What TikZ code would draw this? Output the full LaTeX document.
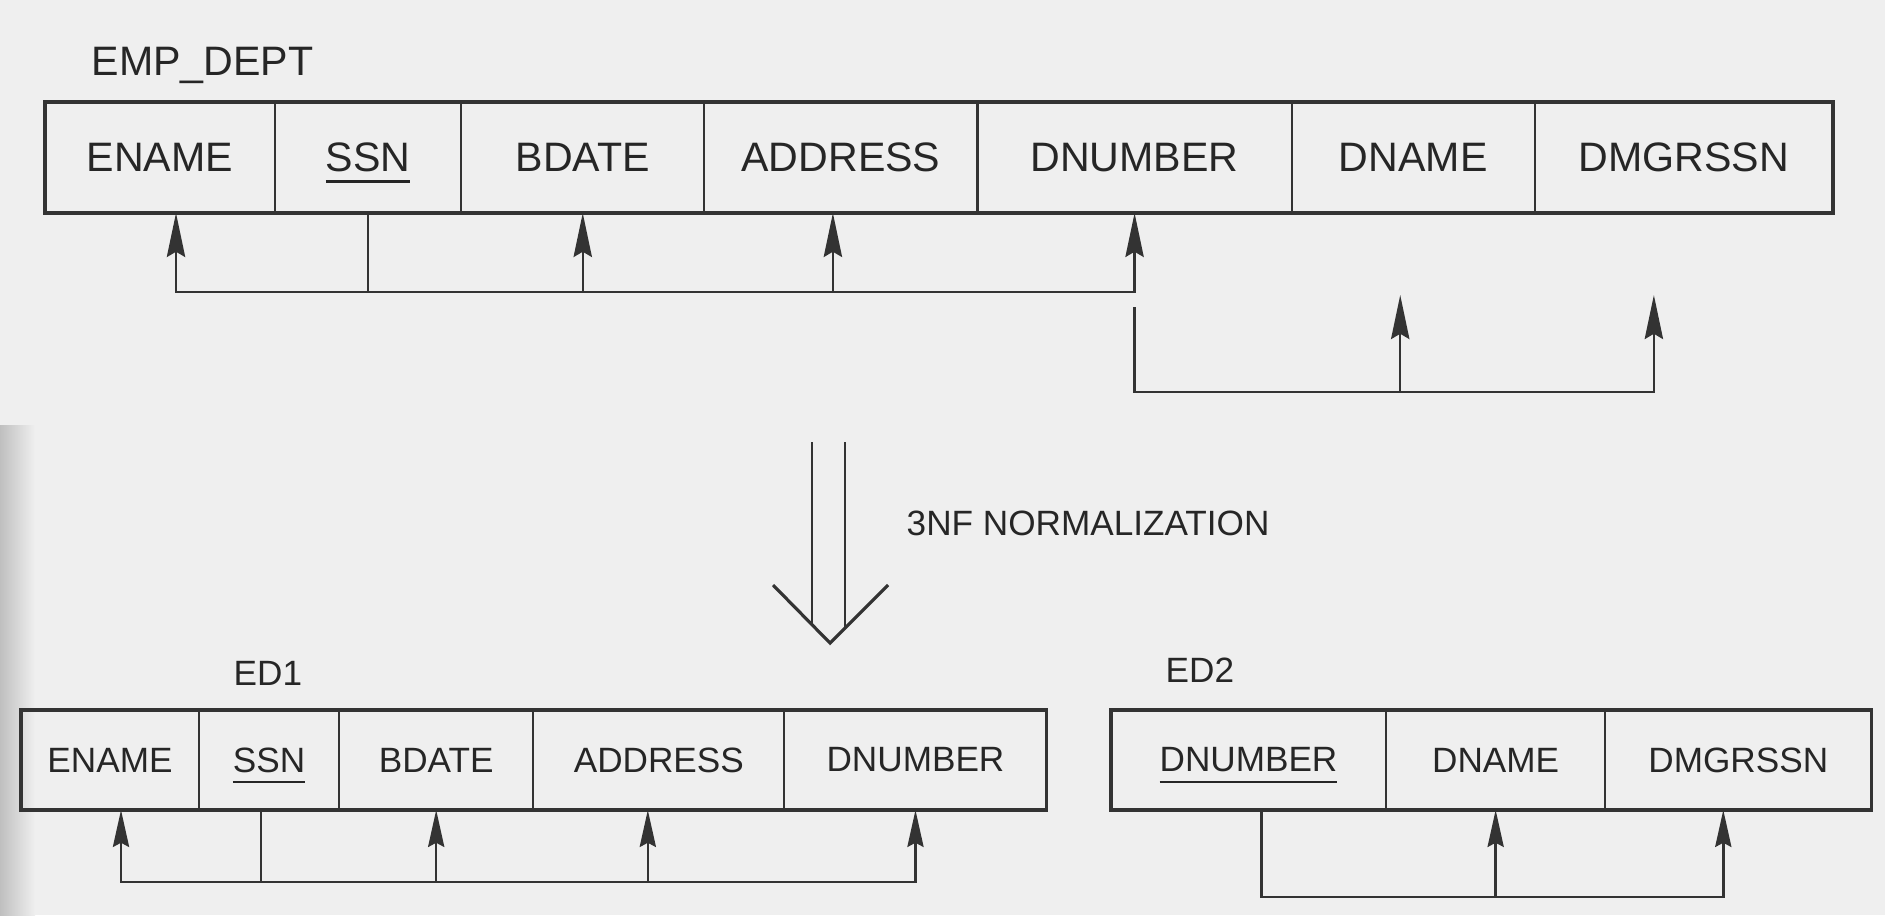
\documentclass[tikz,border=0pt]{standalone}
\usepackage{fontspec}
\setmainfont{Liberation Sans}
\usepackage{tikz}
\usetikzlibrary{arrows.meta,positioning,calc}

\definecolor{paper}{HTML}{EFEFEF}
\definecolor{ink}{HTML}{333333}
\definecolor{letter}{HTML}{262626}

% underlined key attribute
\newcommand{\keyattr}[1]{\setbox0\hbox{#1}\rlap{\smash{\rule[-3.2pt]{\wd0}{0.7pt}}}\box0}

\tikzset{
  attr/.style={draw=ink, text=letter, line width=0.6pt, inner sep=0pt, outer sep=0pt,
    minimum height=1.11cm, font=\fontsize{11.7}{14}\selectfont},
  attrsm/.style={attr, minimum height=1.0cm, font=\fontsize{10}{12}\selectfont},
  relname/.style={text=letter, inner sep=0pt, anchor=base west},
  fd/.style={draw=ink, line width=0.7pt, -{Stealth[length=12.5pt,width=5.2pt,inset=1.5pt]}},
  fdboth/.style={fd, {Stealth[length=12.5pt,width=5.2pt,inset=1.5pt]}-{Stealth[length=12.5pt,width=5.2pt,inset=1.5pt]}},
  fdsm/.style={draw=ink, line width=0.7pt, -{Stealth[length=10.5pt,width=4.6pt,inset=1.2pt]}},
  fdsmboth/.style={fdsm, {Stealth[length=10.5pt,width=4.6pt,inset=1.2pt]}-{Stealth[length=10.5pt,width=4.6pt,inset=1.2pt]}},
  fdline/.style={draw=ink, line width=0.7pt},
}

\begin{document}
\begin{tikzpicture}[x=0.01cm,y=-0.01cm]
      \useasboundingbox (0,0) rectangle (1885,915);
      \fill[paper] (0,0) rectangle (1885,915);
      \shade[left color=black!25, right color=paper] (0,425) rectangle (35,915);

      % EMP_DEPT
      \node[relname, font=\fontsize{11.7}{14}\selectfont] (empdept) at (91,75) {EMP\_DEPT};
      \node[attr, minimum width=2.30cm] (ename) at (160,157.5) {ENAME};
      \node[attr, minimum width=1.86cm, right=0pt of ename] (ssn) {\keyattr{SSN}};
      \node[attr, minimum width=2.43cm, right=0pt of ssn] (bdate) {BDATE};
      \node[attr, minimum width=2.73cm, right=0pt of bdate] (address) {ADDRESS};
      \node[attr, minimum width=3.14cm, right=0pt of address] (dnum) {DNUMBER};
      \node[attr, minimum width=2.43cm, right=0pt of dnum] (dname) {DNAME};
      \node[attr, minimum width=2.98cm, right=0pt of dname] (dmgr) {DMGRSSN};
      \draw[ink, line width=0.9pt] (ename.north west) rectangle (dmgr.south east);

      \coordinate (fdA) at (0,292);
      \coordinate (fdB) at (0,392);
      \coordinate (e1) at ([xshift=0.16cm]ename.south);
      \coordinate (a1) at ([xshift=-0.08cm]address.south);
      \coordinate (fdBtop) at ([yshift=-0.94cm]dnum.south);
      \coordinate (dn1) at ([xshift=-0.13cm,yshift=-0.82cm]dname.south);
      \coordinate (dm1) at ([xshift=-0.30cm,yshift=-0.82cm]dmgr.south);

      \draw[fdboth] (e1) -- (e1 |- fdA) -- (dnum.south |- fdA) -- (dnum.south);
      \draw[fdline] (ssn.south) -- (ssn.south |- fdA);
      \draw[fd] (bdate.south |- fdA) -- (bdate.south);
      \draw[fd] (a1 |- fdA) -- (a1);
      \draw[fd] (fdBtop) -- (fdBtop |- fdB) -- (dm1 |- fdB) -- (dm1);
      \draw[fd] (dn1 |- fdB) -- (dn1);

      % normalization arrow
      \draw[ink, line width=0.7pt] (812,442) -- (812,625);
      \draw[ink, line width=0.7pt] (845,442) -- (845,628);
      \draw[ink, line width=0.9pt] (773,585) -- (830,643) -- (888,585);
      \node[relname, font=\fontsize{10}{12}\selectfont] (norm) at (906,535) {3NF NORMALIZATION};

      % ED1
      \node[relname, font=\fontsize{10}{12}\selectfont] (edone) at (233,685) {ED1};
      \node[attrsm, minimum width=1.78cm] (ename1) at (110,760) {ENAME};
      \node[attrsm, minimum width=1.40cm, right=0pt of ename1] (ssn1) {\keyattr{SSN}};
      \node[attrsm, minimum width=1.94cm, right=0pt of ssn1] (bdate1) {BDATE};
      \node[attrsm, minimum width=2.51cm, right=0pt of bdate1] (address1) {ADDRESS};
      \node[attrsm, minimum width=2.62cm, right=0pt of address1] (dnum1) {DNUMBER};
      \draw[ink, line width=0.9pt] (ename1.north west) rectangle (dnum1.south east);

      \coordinate (fdC) at (0,882);
      \coordinate (e2) at ([xshift=0.11cm]ename1.south);
      \coordinate (s2) at ([xshift=-0.08cm]ssn1.south);
      \coordinate (a2) at ([xshift=-0.11cm]address1.south);

      \draw[fdsmboth] (e2) -- (e2 |- fdC) -- (dnum1.south |- fdC) -- (dnum1.south);
      \draw[fdline] (s2) -- (s2 |- fdC);
      \draw[fdsm] (bdate1.south |- fdC) -- (bdate1.south);
      \draw[fdsm] (a2 |- fdC) -- (a2);

      % ED2
      \node[relname, font=\fontsize{10}{12}\selectfont] (edtwo) at (1165,682) {ED2};
      \node[attrsm, minimum width=2.75cm] (dnum2) at (1248.5,760) {\keyattr{DNUMBER}};
      \node[attrsm, minimum width=2.19cm, right=0pt of dnum2] (dname2) {DNAME};
      \node[attrsm, minimum width=2.66cm, right=0pt of dname2] (dmgr2) {DMGRSSN};
      \draw[ink, line width=0.9pt] (dnum2.north west) rectangle (dmgr2.south east);

      \coordinate (fdD) at (0,897);
      \coordinate (d3) at ([xshift=0.13cm]dnum2.south);
      \coordinate (m3) at ([xshift=-0.15cm]dmgr2.south);

      \draw[fdsm] (d3) -- (d3 |- fdD) -- (m3 |- fdD) -- (m3);
      \draw[fdsm] (dname2.south |- fdD) -- (dname2.south);

    \end{tikzpicture}
\end{document}
